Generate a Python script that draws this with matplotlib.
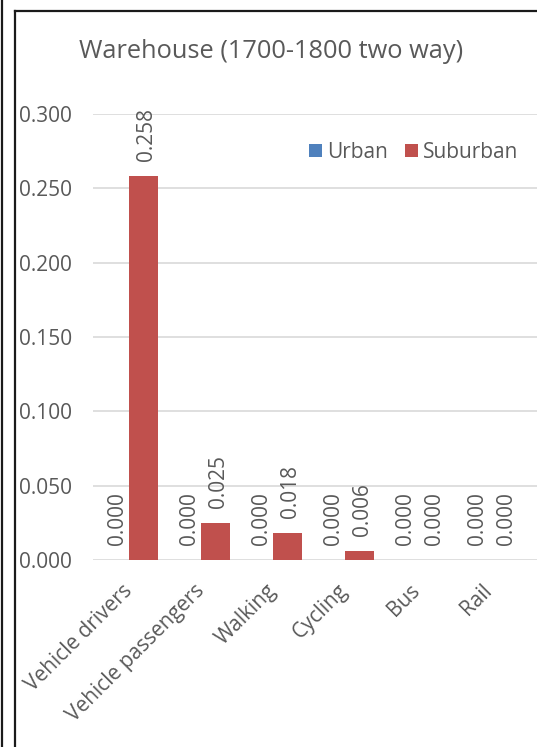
import matplotlib
matplotlib.use("Agg")
import matplotlib.pyplot as plt
from matplotlib.lines import Line2D
import numpy as np

# ── Data ──────────────────────────────────────────────────────────────────────
categories = ["Vehicle drivers", "Vehicle passengers", "Walking", "Cycling", "Bus", "Rail"]
urban = [0.000, 0.000, 0.000, 0.000, 0.000, 0.000]
suburban = [0.258, 0.025, 0.018, 0.006, 0.000, 0.000]
y_ticks = [0.000, 0.050, 0.100, 0.150, 0.200, 0.250, 0.300]

TEXT = "#595959"
BLUE = "#4F81BD"
RED = "#C0504D"

plt.rcParams["font.family"] = ["Open Sans", "DejaVu Sans"]

W, H = 537, 747
fig = plt.figure(figsize=(W / 100, H / 100), dpi=100)

# chart frame borders
fig.add_artist(Line2D([1.5 / W, 1.5 / W], [0, 1], color="#1a1a1a", lw=1.6))
fig.add_artist(Line2D([15 / W, 15 / W], [0, 1 - 11 / H], color="#1a1a1a", lw=1.6))
fig.add_artist(Line2D([15 / W, 1], [1 - 11 / H, 1 - 11 / H], color="#1a1a1a", lw=1.6))

ax = fig.add_axes([93 / W, 187 / H, 444 / W, 446 / H])
x = np.arange(len(categories))
bw = 0.4
b1 = ax.bar(x - 0.2, urban, bw, color=BLUE, label="Urban", zorder=3)
b2 = ax.bar(x + 0.2, suburban, bw, color=RED, label="Suburban", zorder=3)

for bars, vals in ((b1, urban), (b2, suburban)):
    for rect, v in zip(bars, vals):
        ax.annotate(f"{v:.3f}", (rect.get_x() + rect.get_width() / 2, v),
                    xytext=(2, 11), textcoords="offset points", rotation=90,
                    ha="center", va="bottom", fontsize=15, color=TEXT)

ax.set_xlim(-0.5, -0.5 + 444 / 72)
ax.set_ylim(0, 0.3)
ax.set_yticks(y_ticks)
ax.set_yticklabels([f"{t:.3f}" for t in y_ticks])
ax.yaxis.grid(True, color="#D9D9D9", lw=1.2, zorder=0)
ax.set_axisbelow(True)
for s in ax.spines.values():
    s.set_visible(False)
ax.tick_params(axis="y", length=0, pad=15, labelsize=15, labelcolor=TEXT)

ax.set_xticks(x)
ax.set_xticklabels(categories, rotation=45, ha="right", va="center", rotation_mode="anchor",
                   fontsize=15, color=TEXT)
ax.tick_params(axis="x", length=0, pad=20)

fig.text(271 / W, 1 - 52 / H, "Warehouse (1700-1800 two way)", ha="center", va="center",
         fontsize=18.3, color=TEXT)

leg = fig.legend(handles=[b1, b2], labels=["Urban", "Suburban"], ncol=2, frameon=False,
                 loc="center left", bbox_to_anchor=(309 / W, 1 - 152 / H),
                 fontsize=15, labelcolor=TEXT, handlelength=0.6, handleheight=0.6,
                 handletextpad=0.25, columnspacing=0.85, borderaxespad=0, borderpad=0)

fig.savefig("out.png", dpi=100)
